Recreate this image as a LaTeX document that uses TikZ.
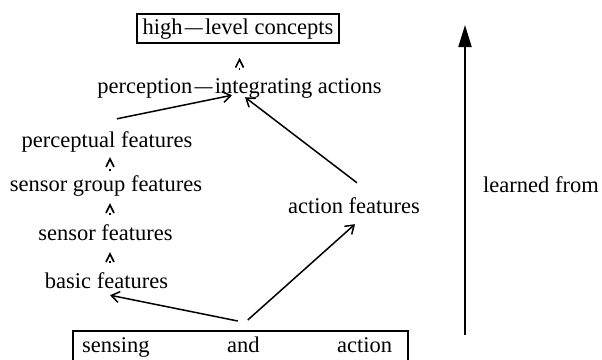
\documentclass[tikz,border=0pt]{standalone}
\usepackage{fontspec}
\setmainfont{Liberation Serif}
\usetikzlibrary{arrows.meta}
\newcommand{\mdash}{\kern.1em\scalebox{0.8}[1]{—}\kern.1em}
\begin{document}
\begin{tikzpicture}[x=1pt,y=1pt,
  font=\fontsize{22.5}{27}\selectfont,
  lbl/.style={inner sep=0pt, text height=16pt, text depth=5pt, anchor=base},
  boxed/.style={draw, line width=1.5pt, inner sep=0pt, text height=16pt, text depth=5pt},
  conn/.style={line width=1.5pt, -{Straight Barb[length=8pt,width=11pt,line width=1.5pt]}},
  dotarrow/.style={line width=1.6pt, dash pattern=on 2pt off 40pt, -{Straight Barb[length=8pt,width=8pt,line width=1.6pt]}},
  bigarrow/.style={line width=2pt, -{Triangle[length=22pt,width=13pt]}}
]
\useasboundingbox (0,0) rectangle (602,-359);
\clip (0,0) rectangle (602,-359);

\node[boxed, minimum width=202pt, minimum height=29pt] (hlc) at (238,-28.5) {high\mdash level concepts};
\node[lbl] (pia) at (239.5,-93) {perception\mdash integrating actions};
\node[lbl] (pf) at (107,-147) {perceptual features};
\node[lbl] (sgf) at (106,-191) {sensor group features};
\node[lbl] (sf) at (105.5,-240) {sensor features};
\node[lbl] (bf) at (106.5,-288) {basic features};
\node[lbl] (af) at (354,-213) {action features};
\node[lbl] (lf) at (541,-192) {learned from};
\node[draw, line width=1.5pt, inner sep=0pt, minimum width=335pt, minimum height=90pt, anchor=north west] (sa) at (72,-330) {};
\node[lbl, anchor=base west] (satext) at (82,-352) {\hbox to 310pt{sensing\hfill and\hfill action}};

% dotted short arrows
\draw[dotarrow, shorten <=7pt, shorten >=14pt] (pia.north) -- (pia.north |- hlc.south);
\draw[dotarrow, shorten <=4pt, shorten >=5pt] ([xshift=4pt]sgf.north) -- ([xshift=4pt]sgf.north |- pf.south);
\draw[dotarrow, shorten <=9pt, shorten >=7pt] ([xshift=4.5pt]sf.north) -- ([xshift=4.5pt]sf.north |- sgf.south);
\draw[dotarrow, shorten <=9pt, shorten >=7pt] ([xshift=3.5pt]bf.north) -- ([xshift=3.5pt]bf.north |- sf.south);

% solid arrows
\draw[conn] ([shift={(10,12)}]pf.north) -- ([shift={(-7.5,3)}]pia.south);
\draw[conn] ([shift={(3,14)}]af.north) -- ([shift={(5.5,1)}]pia.south);
\draw[conn] ([shift={(-2.5,9)}]sa.north) -- ([shift={(3.5,-2)}]bf.south);
\draw[conn] ([shift={(7.5,10)}]sa.north) -- ([shift={(1,-6)}]af.south);

% learned-from arrow
\coordinate (lbot) at (465,-335);
\coordinate (ltop) at (465,-25);
\draw[bigarrow] (lbot) -- (ltop);
\end{tikzpicture}
\end{document}
